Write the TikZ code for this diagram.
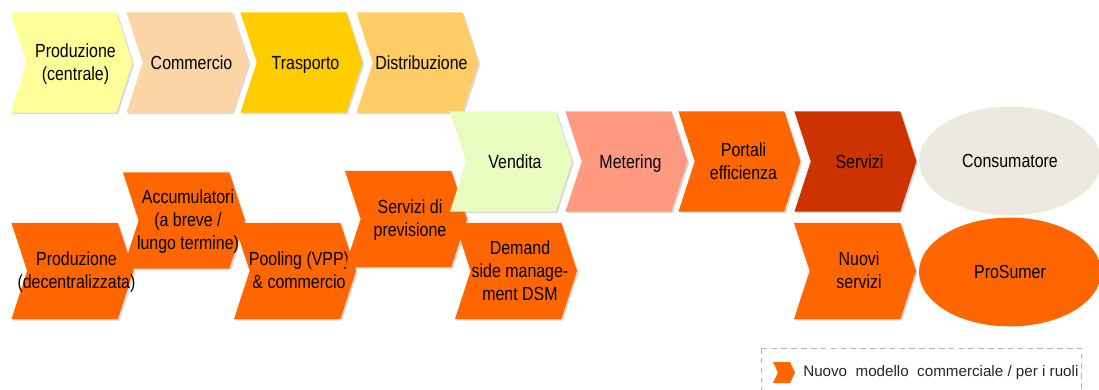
\documentclass[tikz,border=0pt]{standalone}
\usepackage{fontspec}
\setmainfont{Liberation Sans}[FakeStretch=0.84]
\newfontfamily\legfont{Liberation Sans}
\usetikzlibrary{shapes.symbols,shapes.geometric,shadows}

\definecolor{prodcol}{HTML}{FFFF99}
\definecolor{commcol}{HTML}{FBD5A5}
\definecolor{traspcol}{HTML}{FFCC00}
\definecolor{distrcol}{HTML}{FFCC66}
\definecolor{vendcol}{HTML}{EAFBC0}
\definecolor{metercol}{HTML}{FF9980}
\definecolor{arancio}{HTML}{FF6600}
\definecolor{servcol}{HTML}{CC3300}
\definecolor{conscol}{HTML}{ECE9DF}

\tikzset{
  freccia/.style={signal, signal from=west, signal to=east,
    signal pointer angle=144, inner sep=0pt},
  chev/.style={freccia, minimum width=3.05cm, minimum height=2.4cm,
    drop shadow={shadow xshift=1.2pt, shadow yshift=-1.2pt, opacity=.3}},
  alta/.style={minimum height=2.5cm},
  ruolo/.style={ellipse, minimum width=4.55cm, minimum height=2.72cm, inner sep=0pt,
    font=\fontsize{13.5}{16.3}\selectfont},
  txt/.style={align=center, xshift=0.1cm, yshift=-2pt, inner sep=0pt,
    font=\fontsize{13.5}{16.3}\selectfont,
    execute at begin node=\strut, execute at end node=\strut}
}

\begin{document}
\begin{tikzpicture}[x=0.025cm,y=-0.025cm]
  \useasboundingbox (0,0) rectangle (1099,389);

  % catena tradizionale
  \node[chev,alta,fill=prodcol] (prodc) at (71.5,62.5) {};
  \node[txt] (prodc-t) at (prodc) {Produzione\\(centrale)};
  \node[chev,alta,fill=commcol] (comm) at (187.5,62.5) {};
  \node[txt] (comm-t) at (comm) {Commercio};
  \node[chev,alta,fill=traspcol] (trasp) at (301.5,62.5) {};
  \node[txt] (trasp-t) at (trasp) {Trasporto};
  \node[chev,alta,fill=distrcol] (distr) at (417.5,62.5) {};
  \node[txt] (distr-t) at (distr) {Distribuzione};

  % nuovi ruoli
  \node[chev,fill=arancio] (prodd) at (72.5,271) {};
  \node[txt] (prodd-t) at (prodd) {Produzione\\(decentralizzata)};
  \node[chev,fill=arancio] (accum) at (184,220.5) {};
  \node[txt] (accum-t) at (accum) {Accumulatori\\(a breve /\\lungo termine)};
  \node[chev,fill=arancio] (pool) at (295,271) {};
  \node[txt] (pool-t) at (pool) {Pooling (VPP)\\\& commercio};
  \node[chev,fill=arancio] (previs) at (406,219) {};
  \node[txt] (previs-t) at (previs) {Servizi di\\previsione};
  \node[chev,fill=arancio] (dsm) at (516,271) {};
  \node[txt] (dsm-t) at (dsm) {Demand\\side manage-\\ment DSM};
  \node[chev,fill=arancio] (nuovi) at (855,271) {};
  \node[txt] (nuovi-t) at (nuovi) {Nuovi\\servizi};

  % vendita al consumatore
  \node[chev,alta,fill=vendcol] (vend) at (511,161.5) {};
  \node[txt] (vend-t) at (vend) {Vendita};
  \node[chev,alta,fill=metercol] (meter) at (626.5,161.5) {};
  \node[txt] (meter-t) at (meter) {Metering};
  \node[chev,alta,fill=arancio] (portali) at (739.5,161.5) {};
  \node[txt] (portali-t) at (portali) {Portali\\efficienza};
  \node[chev,alta,fill=servcol] (serv) at (855.5,161.5) {};
  \node[txt] (serv-t) at (serv) {Servizi};

  \node[ruolo,fill=conscol] (cons) at (1010,161) {Consumatore};
  \node[ruolo,fill=arancio] (pros) at (1010,272) {ProSumer};

  % legenda
  \draw[black!30, dashed, dash pattern=on 4pt off 3pt] (761,348) rectangle (1081,420);
  \node[freccia,fill=arancio,minimum width=0.55cm,minimum height=0.525cm,signal pointer angle=130] (leg) at (784,372.5) {};
  \node[anchor=west,inner sep=0pt,text=black!85,font=\legfont\fontsize{10.8}{12}\selectfont] (leg-t) at (803,373) {Nuovo\hspace{3pt} modello\hspace{3pt} commerciale / per i ruoli};
\end{tikzpicture}
\end{document}
